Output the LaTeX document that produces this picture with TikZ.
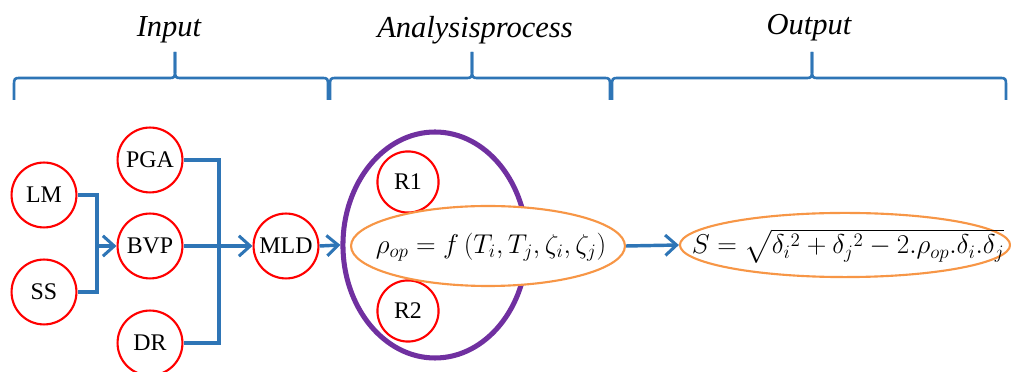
\RequirePackage{fix-cm}
\documentclass[tikz,border=0pt]{standalone}
\usepackage{amsmath}
\usepackage{fontspec}
\setmainfont{Liberation Serif}
\usetikzlibrary{arrows.meta, shapes.geometric}

\definecolor{wireblue}{RGB}{46,117,182}
\definecolor{grppurple}{RGB}{112,48,160}
\definecolor{ellorange}{RGB}{247,150,70}

\begin{document}
\begin{tikzpicture}[x=0.0265cm, y=-0.0265cm,
  every node/.style={inner sep=0pt},
  blk/.style={circle, draw=red, fill=white, line width=1.6pt, minimum size=1.72cm,
    font=\fontsize{18}{21}\selectfont},
  wire/.style={draw=wireblue, line width=2.6pt},
  arr/.style={wire, -{Straight Barb[length=3mm, width=5.4mm, line width=2.3pt]}},
  brace/.style={draw=wireblue, line width=2pt},
  head/.style={font=\fontsize{23}{26}\selectfont\itshape},
  oval/.style={ellipse, draw=ellorange, fill=white, line width=1.6pt},
  eqn/.style={font=\fontsize{20.5}{24}\selectfont}
  ]

  \useasboundingbox (0,0) rectangle (1011,372);

  % === Braces over the three phases
  \foreach \xa/\xt/\xb in {14/175/328, 330/472/610, 612/812/1006} {
    \draw[brace] (\xa,100) -- (\xa,84)
      .. controls (\xa,79) and (\xa+1,78) .. (\xa+5,78) -- (\xt-5,78)
      .. controls (\xt-1,78) and (\xt,77) .. (\xt,72) -- (\xt,52);
    \draw[brace] (\xt,52) -- (\xt,72)
      .. controls (\xt,77) and (\xt+1,78) .. (\xt+5,78) -- (\xb-5,78)
      .. controls (\xb-1,78) and (\xb,79) .. (\xb,84) -- (\xb,100);
  }

  % Phase labels
  \node[head] (inp) at (169,30) {Input};
  \node[head] (ana) at (475,30) {Analysisprocess};
  \node[head] (outp) at (809,28) {Output};

  % === Input parameters
  \node[blk] (lm) at (44,195) {LM};
  \node[blk] (ss) at (44,292) {SS};
  \node[blk] (pga) at (150,160) {PGA};
  \node[blk] (bvp) at (150,246) {BVP};
  \node[blk] (dr) at (150,343) {DR};
  \node[blk] (mld) at (286,246) {MLD};

  % === Analysis group
  \node[ellipse, draw=grppurple, line width=3.8pt, minimum width=4.88cm,
    minimum height=5.99cm] (grp) at (435,245) {};
  \node[blk, minimum size=1.62cm] (r1) at (408,182) {R1};
  \node[blk, minimum size=1.62cm] (r2) at (408,311) {R2};
  \node[oval, minimum width=7.26cm, minimum height=2.12cm] (rho) at (488,246) {};
  \node[eqn] (rhotxt) at (491,247) {$\rho_{op} = f\,(T_i, T_j, \zeta_i, \zeta_j)$};

  % === Output
  \node[oval, minimum width=8.75cm, minimum height=1.7cm] (out) at (845,245) {};
  \node[eqn] (stxt) at (848,246)
    {$S = \sqrt{\delta_i{}^2 + \delta_j{}^2 - 2.\rho_{op}.\delta_i.\delta_j}$};

  % Connectors
  \coordinate (jl) at (97,246);
  \coordinate (jr) at (219,246);
  \draw[wire] (lm.east) -| (jl);
  \draw[wire] (ss.east) -| (jl);
  \draw[arr] (jl) -- (bvp.west);
  \draw[wire] (pga.east) -| (jr);
  \draw[wire] (dr.east) -| (jr);
  \draw[arr] (bvp.east) -- (mld.west);
  \draw[arr] (mld.east) -- (grp.west);
  \draw[arr] (rho.east) -- (out.west);

\end{tikzpicture}
\end{document}
